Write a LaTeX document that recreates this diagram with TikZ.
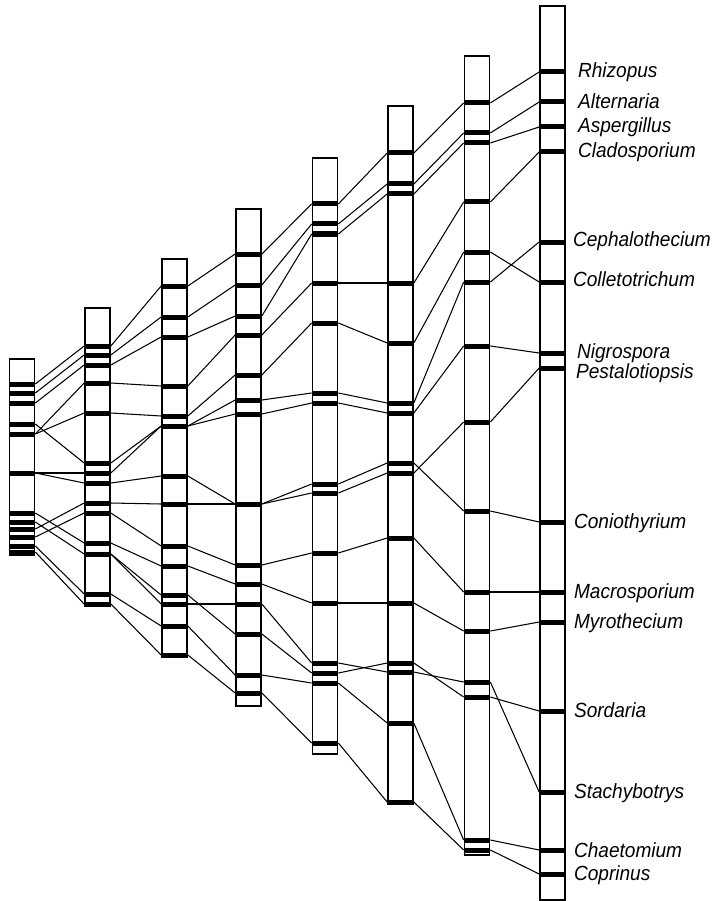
\documentclass[tikz,border=0pt]{standalone}
\usepackage{fontspec}
\newfontfamily\genusfont{Liberation Sans}[FakeStretch=0.93]
\usetikzlibrary{positioning}

\begin{document}
\begin{tikzpicture}[x=1pt, y=-1pt,
  column/.style={draw, line width=1.3pt},
  band/.style={fill=black, inner sep=0pt, minimum width=26.3pt, minimum height=5pt},
  link/.style={line width=1.05pt},
  genus/.style={anchor=base west, inner sep=0pt, font=\genusfont\itshape\fontsize{20.5}{23}\selectfont}
]
\useasboundingbox (0,0) rectangle (715,901);

% columns: centre / top / bottom
\foreach \cx/\top/\bot in {22/359/555, 97.5/308/606, 174.5/259/657, 248.5/209/706,
    325/158/754, 400.5/106/804, 477/56/855, 552.5/6/900}
  \draw[column] (\cx-12.5,\top) rectangle (\cx+12.5,\bot);

% bands
\foreach \c/\cx/\ys in {
    1/22/{384,393,403,424,434,473,513,522,529,537,546,552},
    2/97.5/{346,355,365,383,413,463,473,483,503,513,543,554,594,604},
    3/174.5/{286,317,337,386,416,426,476,504,546,566,595,604,626,655},
    4/248.5/{254,285,316,335,375,400,414,504,565,584,604,634,675,693},
    5/325/{204,224,234,283,323,393,403,484,493,553,603,663,673,683,743},
    6/400.5/{153,184,194,283,343,403,413,463,473,538,603,663,672,723,802},
    7/477/{103,133,143,202,252,282,346,422,511,592,631,682,697,840,850},
    8/552.5/{72,102,127,152,242,282,353,368,522,592,622,711,792,850,874}}
  \foreach \y [count=\k] in \ys
    \node[band] (c\c-\k) at (\cx,\y) {};

% links between neighbouring columns
\foreach \a/\i/\j in {
    1/1/1, 1/2/2, 1/3/3, 1/5/4, 1/5/5, 1/4/6, 1/6/7, 1/6/8, 1/7/11, 1/8/12, 1/9/9, 1/10/10, 1/11/13, 1/12/14,
    2/1/1, 2/2/2, 2/3/3, 2/4/4, 2/5/5, 2/6/6, 2/7/6, 2/8/7, 2/9/8, 2/10/9, 2/11/10, 2/12/11, 2/12/12, 2/13/13, 2/14/14,
    3/1/1, 3/2/2, 3/3/3, 3/4/4, 3/5/5, 3/6/6, 3/6/7, 3/7/8, 3/8/8, 3/9/9, 3/10/10, 3/11/12, 3/12/11, 3/13/13, 3/14/14,
    4/1/1, 4/2/2, 4/3/3, 4/4/4, 4/5/5, 4/6/6, 4/7/7, 4/8/8, 4/8/9, 4/9/10, 4/10/11, 4/11/12, 4/12/13, 4/13/14, 4/14/15,
    5/1/1, 5/2/2, 5/3/3, 5/4/4, 5/5/5, 5/6/6, 5/7/7, 5/8/8, 5/9/9, 5/10/10, 5/11/11, 5/12/13, 5/13/12, 5/14/14, 5/15/15,
    6/1/1, 6/2/2, 6/3/3, 6/4/4, 6/5/5, 6/6/6, 6/7/7, 6/8/9, 6/9/8, 6/10/10, 6/11/11, 6/12/13, 6/13/12, 6/14/14, 6/15/15,
    7/1/1, 7/2/2, 7/3/3, 7/4/4, 7/5/6, 7/6/5, 7/7/7, 7/8/8, 7/9/9, 7/10/10, 7/11/11, 7/12/13, 7/13/12, 7/14/14, 7/15/15}
{
  \pgfmathtruncatemacro\b{\a+1}
  \draw[link] (c\a-\i.east) -- (c\b-\j.west);
}

% names of the genera
\foreach \k/\name/\dx/\dy in {1/Rhizopus/12/6, 2/Alternaria/12/7, 3/Aspergillus/12/6, 4/Cladosporium/12/6,
    5/Cephalothecium/7/4, 6/Colletotrichum/7/4, 7/Nigrospora/11/5, 8/Pestalotiopsis/10/10,
    9/Coniothyrium/8/6, 10/Macrosporium/8/6, 11/Myrothecium/8/6, 12/Sordaria/8/6,
    13/Stachybotrys/8/6, 14/Chaetomium/8/7, 15/Coprinus/8/6}
  \node[genus, xshift=\dx pt, yshift=-\dy pt] (g\k) at (c8-\k.east) {\name};
\end{tikzpicture}
\end{document}
